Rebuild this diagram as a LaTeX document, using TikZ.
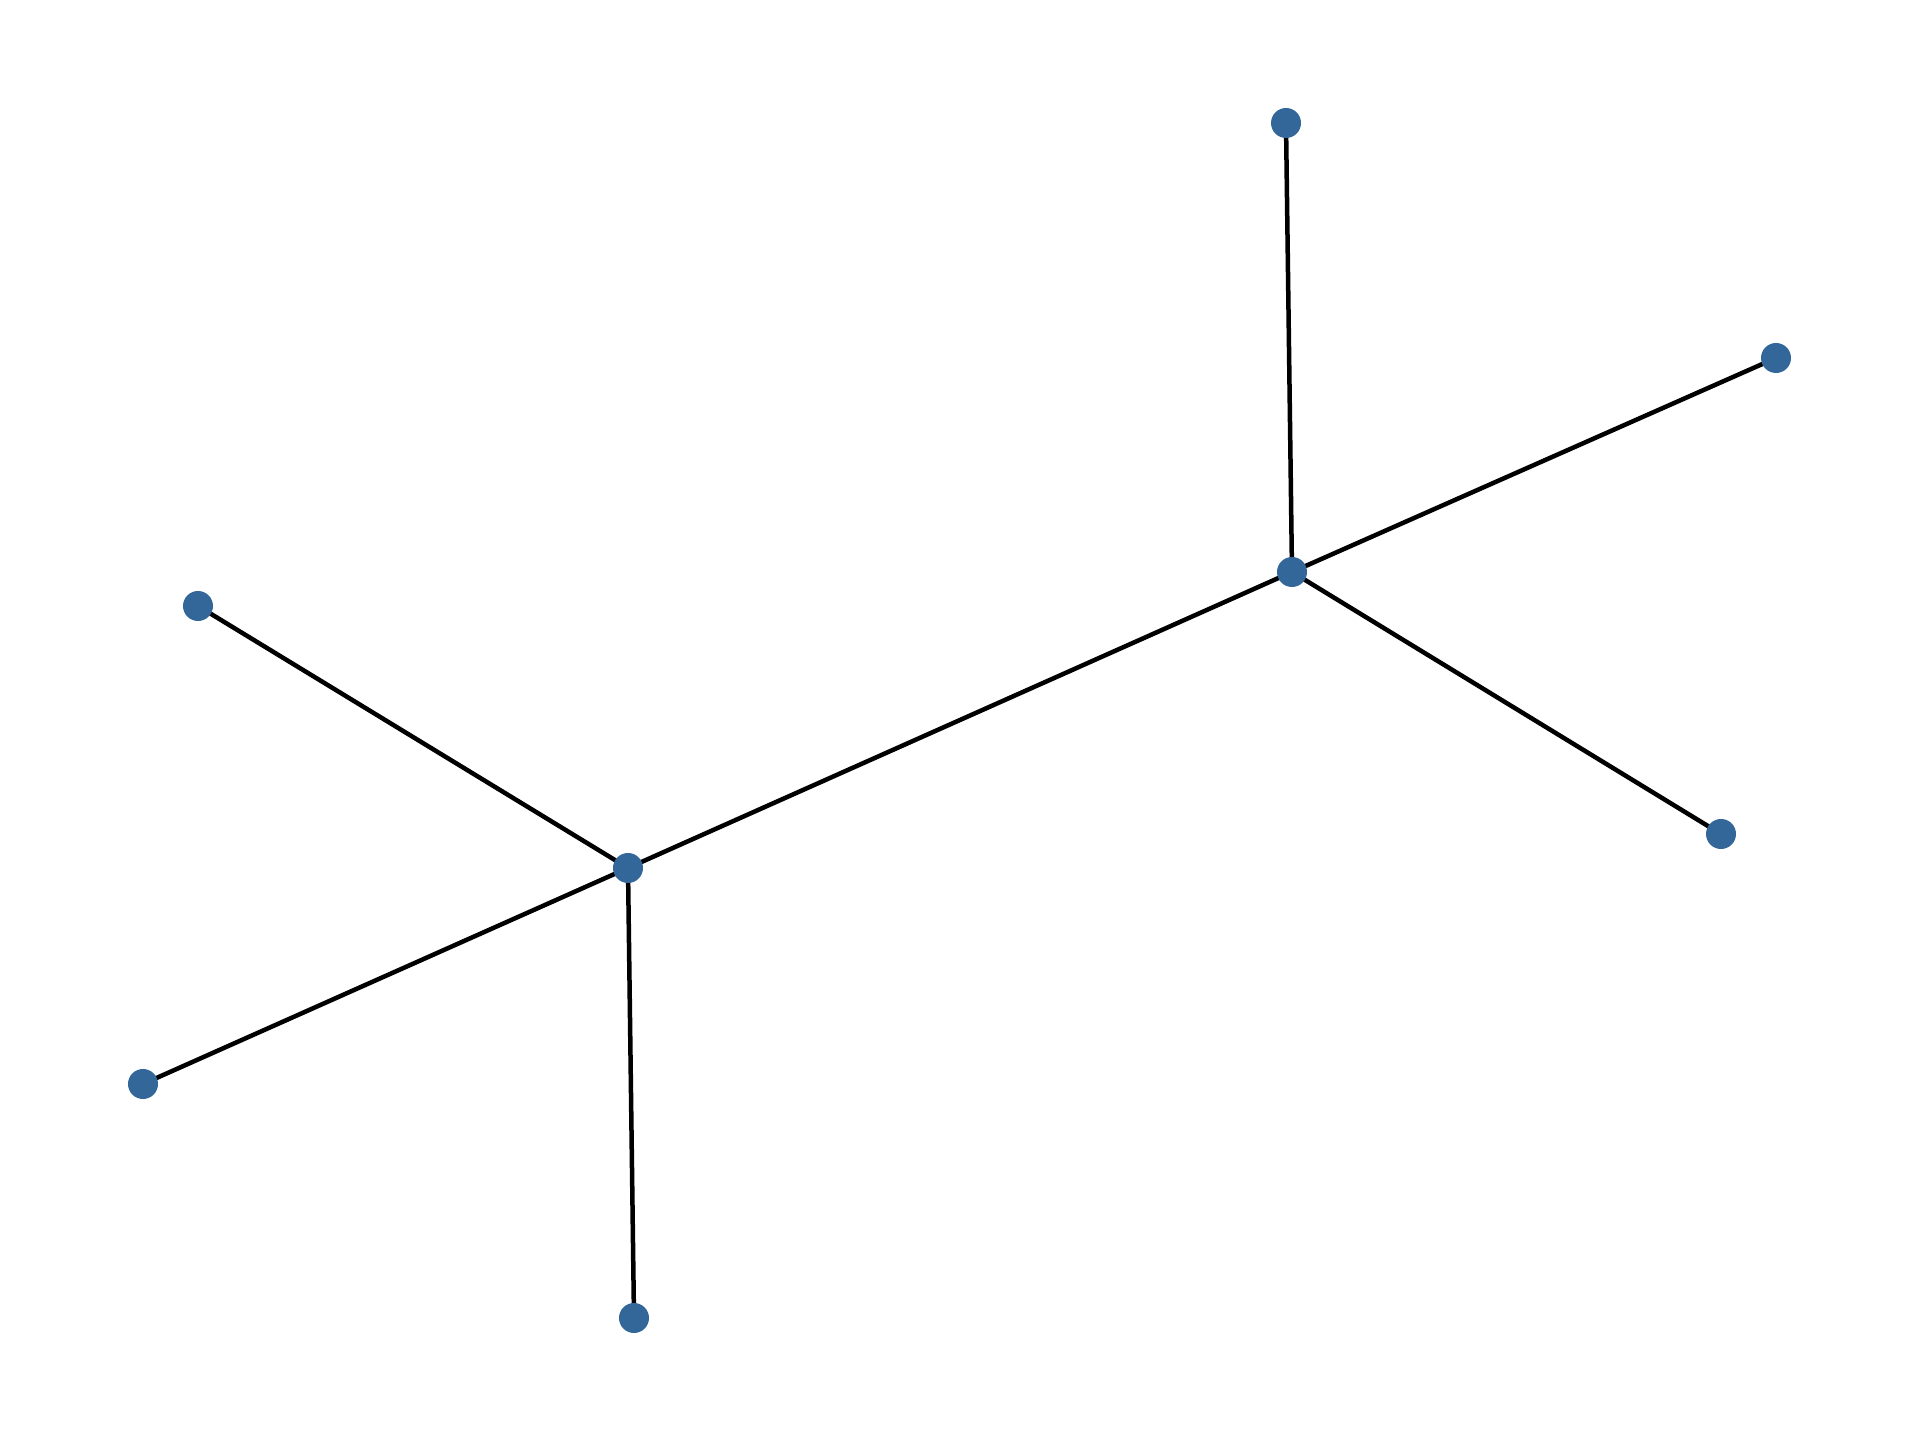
\documentclass[tikz,border=0pt]{standalone}
\usetikzlibrary{backgrounds}
\definecolor{nodeblue}{RGB}{51,102,153}
\begin{document}
\begin{tikzpicture}[x=0.01cm,y=-0.01cm,
  vert/.style={circle,fill=nodeblue,draw=none,minimum size=0.3cm,inner sep=0pt},
  edge/.style={draw=black,line width=0.045cm}]
\useasboundingbox (0,0) rectangle (1920,1440);
\node[vert] (A) at (1286,123) {};
\node[vert] (B) at (1776,358) {};
\node[vert] (C) at (1292,572) {};
\node[vert] (D) at (1721,834) {};
\node[vert] (E) at (198,606) {};
\node[vert] (F) at (628,868) {};
\node[vert] (G) at (143,1084) {};
\node[vert] (H) at (634,1318) {};
\begin{pgfonlayer}{background}
\draw[edge] (A.center) -- (C.center);
\draw[edge] (B.center) -- (C.center);
\draw[edge] (D.center) -- (C.center);
\draw[edge] (C.center) -- (F.center);
\draw[edge] (E.center) -- (F.center);
\draw[edge] (G.center) -- (F.center);
\draw[edge] (H.center) -- (F.center);
\end{pgfonlayer}
\end{tikzpicture}
\end{document}
